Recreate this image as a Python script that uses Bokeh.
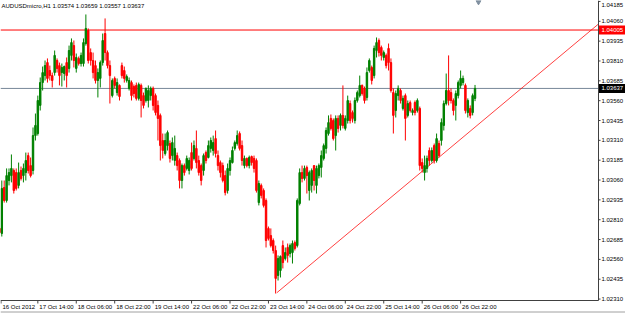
from bokeh.plotting import figure
from bokeh.models import Range1d, ColumnDataSource
from bokeh.core.properties import value
from bokeh.embed import file_html
from bokeh.resources import INLINE

symbol_text = "AUDUSDmicro,H1  1.03574 1.03659 1.03557 1.03637"

open_ = [
    1.02755, 1.02723, 1.03013, 1.02931, 1.03057, 1.03088, 1.03120, 1.03107, 1.03026, 1.03120,
    1.03088, 1.03107, 1.03214, 1.03151, 1.03120, 1.03340, 1.03353, 1.03530, 1.03674, 1.03718,
    1.03800, 1.03750, 1.03718, 1.03737, 1.03813, 1.03781, 1.03737, 1.03731, 1.03800, 1.03763,
    1.03845, 1.03907, 1.03763, 1.03826, 1.03794, 1.03794, 1.03920, 1.04002, 1.03863, 1.03813,
    1.03781, 1.03687, 1.03700, 1.03800, 1.03983, 1.03863, 1.03781, 1.03592, 1.03700, 1.03611,
    1.03656, 1.03781, 1.03750, 1.03687, 1.03637, 1.03674, 1.03649, 1.03656, 1.03574, 1.03656,
    1.03592, 1.03561, 1.03561, 1.03592, 1.03637, 1.03592, 1.03530, 1.03467, 1.03309, 1.03227,
    1.03277, 1.03290, 1.03214, 1.03183, 1.03214, 1.03183, 1.03057, 1.03151, 1.03133, 1.03120,
    1.03233, 1.03196, 1.03259, 1.03183, 1.03151, 1.03120, 1.03233, 1.03202, 1.03259, 1.03246,
    1.03321, 1.03214, 1.03170, 1.03151, 1.03088, 1.02994, 1.03120, 1.03170, 1.03259, 1.03290,
    1.03353, 1.03277, 1.03151, 1.03196, 1.03151, 1.03208, 1.03196, 1.03183, 1.02918, 1.03026,
    1.02994, 1.02931, 1.02755, 1.02710, 1.02679, 1.02616, 1.02459, 1.02490, 1.02647, 1.02565,
    1.02635, 1.02597, 1.02603, 1.02666, 1.02647, 1.02912, 1.03107, 1.03070, 1.03139, 1.02994,
    1.03026, 1.03151, 1.03026, 1.03088, 1.03139, 1.03196, 1.03259, 1.03353, 1.03448, 1.03435,
    1.03340, 1.03448, 1.03404, 1.03467, 1.03385, 1.03435, 1.03542, 1.03485, 1.03435, 1.03561,
    1.03592, 1.03656, 1.03637, 1.03580, 1.03750, 1.03769, 1.03718, 1.03876, 1.03939, 1.03895,
    1.03832, 1.03845, 1.03889, 1.03800, 1.03611, 1.03498, 1.03592, 1.03624, 1.03511, 1.03592,
    1.03467, 1.03548, 1.03485, 1.03548, 1.03498, 1.03511, 1.03170, 1.03107, 1.03133, 1.03246,
    1.03183, 1.03277, 1.03183, 1.03290, 1.03309, 1.03404, 1.03542, 1.03624, 1.03611, 1.03561,
    1.03530, 1.03592, 1.03656, 1.03674, 1.03656, 1.03485, 1.03511, 1.03485, 1.03574,
]

high = [
    1.02767, 1.03057, 1.03057, 1.03133, 1.03133, 1.03221, 1.03133, 1.03133, 1.03170, 1.03145,
    1.03164, 1.03233, 1.03233, 1.03202, 1.03391, 1.03479, 1.03592, 1.03706, 1.03775, 1.03813,
    1.03826, 1.03781, 1.03737, 1.03876, 1.03826, 1.03800, 1.03794, 1.03781, 1.03832, 1.03907,
    1.03952, 1.03939, 1.03857, 1.03838, 1.03863, 1.03952, 1.04103, 1.04015, 1.03889, 1.03863,
    1.03813, 1.03763, 1.03813, 1.03983, 1.04078, 1.03876, 1.03813, 1.03700, 1.03712, 1.03700,
    1.03662, 1.03800, 1.03775, 1.03725, 1.03706, 1.03687, 1.03662, 1.03674, 1.03674, 1.03668,
    1.03611, 1.03643, 1.03656, 1.03649, 1.03649, 1.03605, 1.03561, 1.03479, 1.03353, 1.03353,
    1.03372, 1.03309, 1.03328, 1.03340, 1.03233, 1.03196, 1.03164, 1.03164, 1.03214, 1.03202,
    1.03296, 1.03309, 1.03372, 1.03214, 1.03164, 1.03227, 1.03246, 1.03309, 1.03328, 1.03340,
    1.03372, 1.03246, 1.03183, 1.03170, 1.03120, 1.03164, 1.03202, 1.03271, 1.03309, 1.03372,
    1.03366, 1.03309, 1.03214, 1.03202, 1.03214, 1.03214, 1.03214, 1.03196, 1.03057, 1.03038,
    1.03007, 1.02944, 1.02767, 1.02755, 1.02692, 1.02647, 1.02585, 1.02585, 1.02679, 1.02635,
    1.02660, 1.02660, 1.02679, 1.02679, 1.02944, 1.03133, 1.03151, 1.03151, 1.03151, 1.03120,
    1.03133, 1.03151, 1.03151, 1.03164, 1.03246, 1.03290, 1.03391, 1.03467, 1.03473, 1.03448,
    1.03467, 1.03467, 1.03479, 1.03656, 1.03467, 1.03592, 1.03561, 1.03498, 1.03580, 1.03624,
    1.03718, 1.03662, 1.03649, 1.03769, 1.03826, 1.03781, 1.03907, 1.03958, 1.03952, 1.03907,
    1.03876, 1.03857, 1.03920, 1.03826, 1.03637, 1.03624, 1.03656, 1.03637, 1.03592, 1.03605,
    1.03561, 1.03561, 1.03511, 1.03561, 1.03574, 1.03523, 1.03196, 1.03214, 1.03214, 1.03265,
    1.03265, 1.03290, 1.03353, 1.03309, 1.03448, 1.03561, 1.03731, 1.03845, 1.03637, 1.03574,
    1.03624, 1.03687, 1.03750, 1.03718, 1.03668, 1.03574, 1.03530, 1.03605, 1.03659,
]

low = [
    1.02717, 1.02704, 1.02918, 1.02918, 1.03026, 1.03045, 1.02975, 1.02994, 1.03007, 1.03057,
    1.03045, 1.03057, 1.03101, 1.03076, 1.03095, 1.03309, 1.03340, 1.03498, 1.03624, 1.03687,
    1.03674, 1.03687, 1.03643, 1.03718, 1.03737, 1.03656, 1.03649, 1.03687, 1.03643, 1.03737,
    1.03813, 1.03769, 1.03737, 1.03781, 1.03775, 1.03775, 1.03907, 1.03794, 1.03781, 1.03700,
    1.03668, 1.03580, 1.03643, 1.03781, 1.03813, 1.03763, 1.03542, 1.03580, 1.03637, 1.03592,
    1.03561, 1.03700, 1.03674, 1.03674, 1.03624, 1.03561, 1.03580, 1.03561, 1.03561, 1.03454,
    1.03511, 1.03548, 1.03517, 1.03561, 1.03498, 1.03467, 1.03309, 1.03183, 1.03196, 1.03214,
    1.03246, 1.03170, 1.03183, 1.03151, 1.03120, 1.03007, 1.03007, 1.03088, 1.03120, 1.03095,
    1.03120, 1.03183, 1.03133, 1.03088, 1.03026, 1.03088, 1.03164, 1.03196, 1.03233, 1.03214,
    1.03202, 1.03120, 1.03076, 1.03045, 1.02963, 1.02975, 1.03088, 1.03164, 1.03246, 1.03277,
    1.03246, 1.03151, 1.03133, 1.03139, 1.03133, 1.03151, 1.03107, 1.02981, 1.02900, 1.02944,
    1.02887, 1.02635, 1.02679, 1.02635, 1.02597, 1.02345, 1.02427, 1.02446, 1.02503, 1.02553,
    1.02540, 1.02572, 1.02534, 1.02616, 1.02635, 1.02900, 1.03045, 1.03057, 1.02975, 1.02931,
    1.02981, 1.02994, 1.02975, 1.03070, 1.03076, 1.03183, 1.03227, 1.03340, 1.03372, 1.03309,
    1.03246, 1.03359, 1.03372, 1.03385, 1.03372, 1.03416, 1.03416, 1.03422, 1.03416, 1.03548,
    1.03580, 1.03592, 1.03542, 1.03561, 1.03737, 1.03662, 1.03700, 1.03832, 1.03838, 1.03813,
    1.03813, 1.03763, 1.03750, 1.03611, 1.03353, 1.03454, 1.03561, 1.03542, 1.03498, 1.03309,
    1.03454, 1.03485, 1.03467, 1.03467, 1.03485, 1.03120, 1.03107, 1.03057, 1.03107, 1.03151,
    1.03170, 1.03164, 1.03170, 1.03202, 1.03277, 1.03372, 1.03530, 1.03530, 1.03542, 1.03467,
    1.03435, 1.03574, 1.03637, 1.03656, 1.03479, 1.03454, 1.03448, 1.03467, 1.03557,
]

close = [
    1.02729, 1.03007, 1.02931, 1.03088, 1.03107, 1.03133, 1.02994, 1.03007, 1.03107, 1.03070,
    1.03133, 1.03183, 1.03120, 1.03088, 1.03340, 1.03404, 1.03561, 1.03674, 1.03737, 1.03781,
    1.03700, 1.03718, 1.03687, 1.03845, 1.03763, 1.03718, 1.03769, 1.03775, 1.03718, 1.03876,
    1.03926, 1.03813, 1.03832, 1.03794, 1.03845, 1.03926, 1.04015, 1.03813, 1.03813, 1.03737,
    1.03687, 1.03737, 1.03800, 1.03939, 1.03863, 1.03781, 1.03718, 1.03687, 1.03656, 1.03674,
    1.03586, 1.03718, 1.03700, 1.03712, 1.03687, 1.03592, 1.03605, 1.03574, 1.03662, 1.03561,
    1.03530, 1.03637, 1.03624, 1.03637, 1.03530, 1.03485, 1.03448, 1.03277, 1.03246, 1.03309,
    1.03359, 1.03196, 1.03296, 1.03259, 1.03151, 1.03057, 1.03151, 1.03107, 1.03196, 1.03183,
    1.03133, 1.03277, 1.03170, 1.03107, 1.03057, 1.03214, 1.03183, 1.03277, 1.03309, 1.03296,
    1.03227, 1.03151, 1.03107, 1.03057, 1.02981, 1.03133, 1.03183, 1.03246, 1.03296, 1.03340,
    1.03259, 1.03183, 1.03196, 1.03151, 1.03202, 1.03170, 1.03133, 1.02994, 1.03038, 1.02963,
    1.02900, 1.02679, 1.02692, 1.02647, 1.02616, 1.02440, 1.02565, 1.02578, 1.02540, 1.02603,
    1.02585, 1.02647, 1.02660, 1.02629, 1.02931, 1.03107, 1.03070, 1.03133, 1.03088, 1.03107,
    1.03120, 1.03057, 1.03133, 1.03151, 1.03214, 1.03277, 1.03372, 1.03422, 1.03385, 1.03321,
    1.03448, 1.03385, 1.03467, 1.03404, 1.03448, 1.03561, 1.03435, 1.03448, 1.03561, 1.03611,
    1.03656, 1.03605, 1.03561, 1.03737, 1.03813, 1.03687, 1.03889, 1.03926, 1.03863, 1.03845,
    1.03863, 1.03781, 1.03800, 1.03624, 1.03467, 1.03605, 1.03637, 1.03561, 1.03574, 1.03448,
    1.03542, 1.03498, 1.03498, 1.03485, 1.03561, 1.03151, 1.03133, 1.03151, 1.03196, 1.03183,
    1.03246, 1.03183, 1.03321, 1.03214, 1.03422, 1.03542, 1.03624, 1.03561, 1.03561, 1.03498,
    1.03605, 1.03674, 1.03700, 1.03700, 1.03498, 1.03561, 1.03467, 1.03592, 1.03637,
]

# price scale labels
y_ticks = [1.02310, 1.02435, 1.02560, 1.02685, 1.02810, 1.02935, 1.03060, 1.03185,
           1.03310, 1.03435, 1.03560, 1.03685, 1.03810, 1.03935, 1.04060, 1.04185]
# time scale: bar index and label
x_ticks = [0, 16, 32, 48, 64, 80, 96, 112, 128, 144, 160, 176, 192]
x_labels = ["16 Oct 2012", "17 Oct 14:00", "18 Oct 06:00", "18 Oct 22:00", "19 Oct 14:00",
            "22 Oct 06:00", "22 Oct 22:00", "23 Oct 14:00", "24 Oct 06:00", "24 Oct 22:00",
            "25 Oct 14:00", "26 Oct 06:00", "26 Oct 22:00"]

resistance_level = 1.04005
last_price = 1.03637
trend_x = [115.5, 249.4]
trend_y = [1.02350, 1.04043]

# ---- screen geometry (chart area 598 x 300 px inside a 625 x 313 window) ----
W, H = 625, 313
AREA_W, AREA_H = 598, 300
X_LEFT, X_RIGHT = 0.46, 249.4          # bar index at left / right edge of chart area
P_TOP, P_BOTTOM = 1.04191, 1.02301     # price at top / bottom edge of chart area
BPP = (X_RIGHT - X_LEFT) / AREA_W
PPP = (P_TOP - P_BOTTOM) / AREA_H


def xpx(px):
    return X_LEFT + px * BPP


def ypx(py):
    return P_TOP - py * PPP


idx = list(range(len(close)))
colors = ["#008000" if c >= o else "#FF0000" for o, c in zip(open_, close)]
tops = [max(o, c) for o, c in zip(open_, close)]
bots = [min(o, c) for o, c in zip(open_, close)]
src = ColumnDataSource(dict(x=idx, h=high, l=low, top=tops, bottom=bots, color=colors))

p = figure(width=W, height=H, output_backend="svg", toolbar_location=None,
           x_range=Range1d(xpx(0), xpx(W)), y_range=Range1d(ypx(H), ypx(0)),
           x_axis_location=None, y_axis_location=None,
           min_border_left=0, min_border_top=0, min_border_right=0, min_border_bottom=0)
p.background_fill_color = "white"
p.border_fill_color = "white"
p.outline_line_color = None
p.xgrid.visible = False
p.ygrid.visible = False

font = value("Liberation Sans")
fs = value("6px")

# level lines and trend line
p.line([xpx(0), X_RIGHT], [resistance_level, resistance_level], color="#FF0000", line_width=1)
p.line([xpx(0), X_RIGHT], [last_price, last_price], color="#778899", line_width=1)
p.line(trend_x, trend_y, color="#FF0000", line_width=1, line_alpha=0.75)

# candles
p.segment(x0="x", y0="h", x1="x", y1="l", line_color="color", line_width=1, source=src)
p.vbar(x="x", top="top", bottom="bottom", width=0.6, fill_color="color", line_color="color",
       line_width=1, source=src)

# chart shift marker
p.scatter([xpx(478)], [ypx(1.5)], marker="inverted_triangle", size=5, color="#8090A0")

# price scale (right)
ax_col = "#404040"
p.line([X_RIGHT, X_RIGHT], [ypx(0), P_BOTTOM], color=ax_col, line_width=1)
p.segment(x0=[X_RIGHT] * len(y_ticks), y0=y_ticks, x1=[xpx(AREA_W + 2)] * len(y_ticks), y1=y_ticks,
          color=ax_col, line_width=1)
label_y = [min(t, ypx(4)) for t in y_ticks]   # keep the top label inside the window
p.text(x=[xpx(AREA_W + 3)] * len(y_ticks), y=label_y, text=["%.5f" % t for t in y_ticks],
       text_font=font, text_font_size=fs, text_color="black",
       text_align="left", text_baseline="middle")

# time scale (bottom)
p.line([xpx(0), X_RIGHT], [P_BOTTOM, P_BOTTOM], color=ax_col, line_width=1)
tick_x = [max(t, xpx(0.5)) for t in x_ticks]
p.segment(x0=tick_x, y0=[P_BOTTOM] * len(x_ticks), x1=tick_x, y1=[ypx(AREA_H + 3)] * len(x_ticks),
          color=ax_col, line_width=1)
p.text(x=tick_x, y=[ypx(AREA_H + 6.5)] * len(x_ticks), text=x_labels, x_offset=1.5,
       text_font=font, text_font_size=fs, text_color="black",
       text_align="left", text_baseline="middle")
p.line([xpx(0), xpx(W)], [ypx(311.5), ypx(311.5)], color="#A0A0A0", line_width=1)

# price tags on the scale
for price, bg in [(resistance_level, "#FF0000"), (last_price, "#000000")]:
    p.quad(left=[xpx(AREA_W + 0.5)], right=[xpx(W)], top=[price + 4.5 * PPP],
           bottom=[price - 4.5 * PPP], fill_color=bg, line_color=None)
    p.text(x=[xpx(AREA_W + 3)], y=[price], text=["%.5f" % price], text_font=font,
           text_font_size=fs, text_color="white", text_align="left", text_baseline="middle")

# header
p.text(x=[xpx(1)], y=[ypx(5)], text=[symbol_text], text_font=font, text_font_size=fs,
       text_color="black", text_align="left", text_baseline="middle")

open("out.html", "w").write(file_html(p, INLINE))
